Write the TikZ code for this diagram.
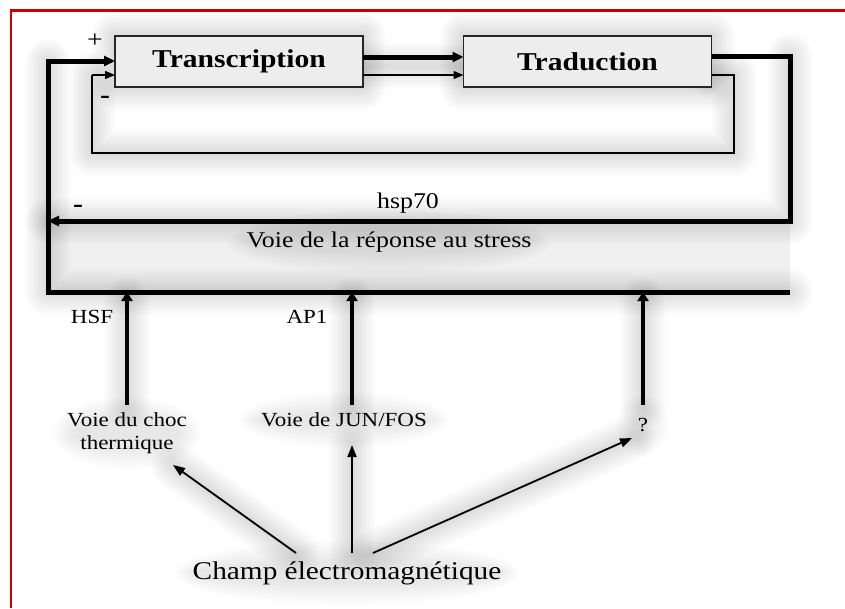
\documentclass[tikz,border=0pt]{standalone}
\usepackage{fontspec}
\setmainfont{Liberation Serif}[FakeStretch=1.15]
\usetikzlibrary{arrows.meta}
\definecolor{framered}{HTML}{CC0000}
\tikzset{
  x=1pt, y=-1pt,
  every node/.style={inner sep=0pt, outer sep=0pt},
  titlebox/.style={draw=black!85, line width=1.3pt, fill=black!7, minimum width=248pt, minimum height=51pt, font=\fontsize{25.7}{28}\selectfont\bfseries},
  thickline/.style={line width=5pt, line join=miter},
  thinline/.style={line width=1.4pt},
  tipbig/.style={-{Triangle[length=11pt,width=10pt]}},
  tipsmall/.style={-{Triangle[length=10pt,width=8pt]}},
  upline/.style={line width=3.6pt, -{Triangle[length=9pt,width=11pt]}},
  champline/.style={line width=1.8pt, -{Triangle[length=12pt,width=9pt]}},
  lab/.style={font=\fontsize{20}{22}\selectfont},
  midlab/.style={font=\fontsize{22.5}{25}\selectfont},
  biglab/.style={font=\fontsize{25.5}{28}\selectfont},
  glowlayer/.style={draw=black, opacity=0.011, line width=#1, line cap=round, line join=round},
}
\newcommand{\glowit}[1]{%
  \foreach \gw in {46,42,...,6} {\draw[glowlayer=\gw pt] #1;}}
\newcommand{\blob}[3]{%
  \foreach \gr in {22,19,...,1} {\fill[black, opacity=0.011] (#1) ellipse [x radius=#2+\gr, y radius=#3+\gr];}}
\begin{document}
\begin{tikzpicture}
\useasboundingbox (0,0) rectangle (845,608);
\fill[white] (0,0) rectangle (845,608);

% soft gray haze
\glowit{(48,62) -- (48,292) -- (790,292)}
\glowit{(790,56) -- (790,221) -- (48,221)}
\glowit{(115,36) rectangle (363,87)}
\glowit{(463,36) rectangle (712,87)}
\glowit{(363,66) -- (463,66)}
\glowit{(712,75) -- (734,75) -- (734,153) -- (92,153) -- (92,75)}
\glowit{(127,300) -- (127,405)}
\glowit{(352,300) -- (352,405)}
\glowit{(643,300) -- (643,405)}
\glowit{(296,553) -- (173,465)}
\glowit{(352,553) -- (352,445)}
\glowit{(373,553) -- (632,438)}
\fill[black, opacity=0.06] (48,221) rectangle (790,292);
\blob{389,242}{140}{10}
\blob{127,433}{52}{14}
\blob{344,420}{82}{6}
\blob{347,573}{150}{10}
\blob{643,425}{4}{8}

% red frame
\draw[framered, line width=2.6pt] (11,608) -- (11,10.5) -- (845,10.5);

% boxes
\node[titlebox] (trans) at (239,61.5) {Transcription};
\node[titlebox] (trad) at (587.5,61.5) {Traduction};

% signs
\node[font=\fontsize{24}{24}\selectfont] (plus) at (95,41) {+};
\node[font=\fontsize{26}{26}\selectfont\bfseries] (minA) at (105,100) {-};
\node[font=\fontsize{26}{26}\selectfont\bfseries] (minB) at (78,209) {-};

% coordinates
\coordinate (lt) at (48,61);
\coordinate (lb) at (48,292);
\coordinate (rb) at (790,292);
\coordinate (rt) at (790,56);
\coordinate (rh) at (790,221);
\coordinate (lh) at (48,221);
\coordinate (b1) at (127,292);
\coordinate (b2) at (352,292);
\coordinate (b3) at (643,292);

% thick outer loop
\draw[thickline] (rb) -- (lb) -- (lt) -- ++(50,0);
\draw[thickline, tipbig] (lt) -- (trans.west |- lt);
\draw[thickline, tipbig] (trans.east |- 0,57) -- (trad.west |- 0,57);
\draw[thickline, tipbig] (trad.east |- rt) -- (rt) -- (rh) -- (lh);

% thin feedback loop
\draw[thinline] (trad.east |- 0,75) -- (734,75) -- (734,153) -- (92,153) -- (92,75);
\draw[thinline, tipsmall] (92,75) -- (trans.west |- 0,75);
\draw[thinline, tipsmall] (trans.east |- 0,75) -- (trad.west |- 0,75);

% labels
\node[midlab] (hsp) at (408,203) {hsp70};
\node[midlab] (stress) at (389,242) {Voie de la réponse au stress};
\node[lab] (hsf) at (92,317) {HSF};
\node[lab] (ap1) at (307,317) {AP1};
\node[lab, align=center, font=\fontsize{20}{23}\selectfont] (choc) at (127,433) {Voie du choc\\thermique};
\node[lab] (jun) at (344,420) {Voie de JUN/FOS};
\node[lab] (q) at (643,425) {?};
\node[biglab] (champ) at (347,573) {Champ électromagnétique};

% upward arrows
\draw[upline] (127,405) -- (b1);
\draw[upline] (352,405) -- (b2);
\draw[upline] (643,405) -- (b3);

% field arrows
\draw[champline] (296,553) -- (173,465);
\draw[champline] (352,553) -- (352,445);
\draw[champline] (373,553) -- (632,438);
\end{tikzpicture}
\end{document}
